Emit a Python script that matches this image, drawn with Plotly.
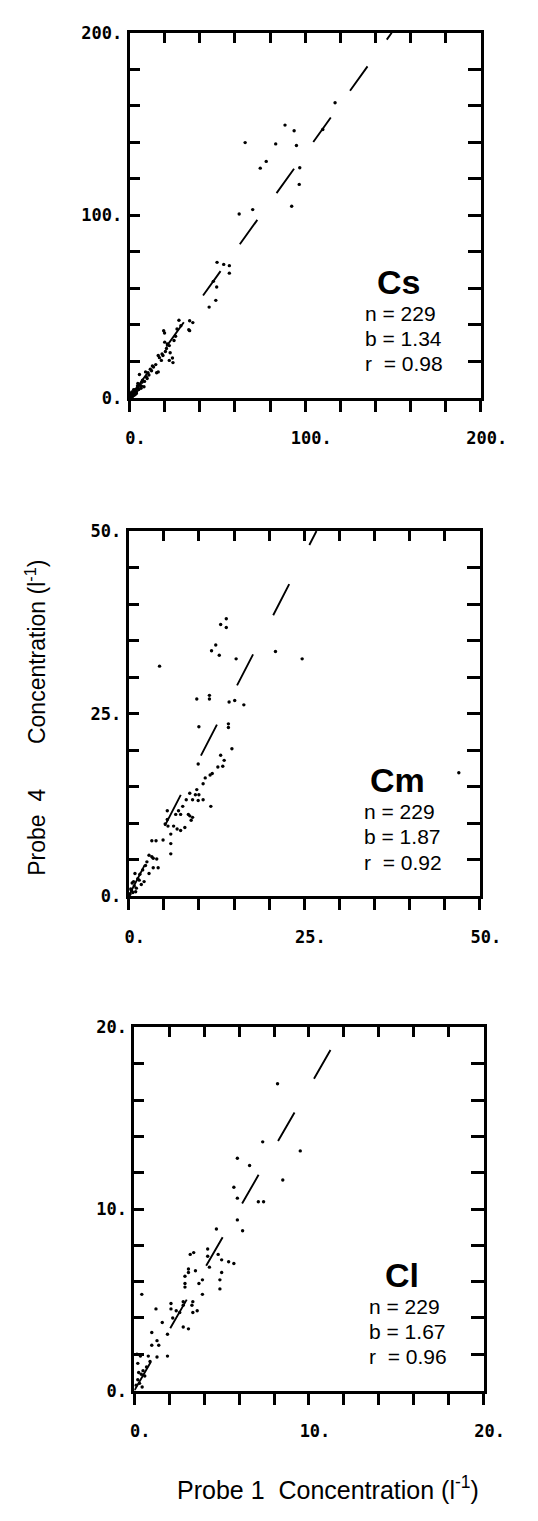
import plotly.graph_objects as go

# ---- data -------------------------------------------------------------
elements = ["Cs", "Cm", "Cl"]
n_values = [229, 229, 229]
slopes = [1.34, 1.87, 1.67]
r_values = [0.98, 0.92, 0.96]
axis_max = [200, 50, 20]
tick_labels = [["0.", "100.", "200."], ["0.", "25.", "50."], ["0.", "10.", "20."]]

cs_x = [117, 110, 88.5, 93.7, 65.8, 83.2, 95, 77.8, 74.4, 96.9, 96.6, 92.3, 62.4, 70.1,
        49.8, 53.6, 56.8, 56.8, 47.7, 49.6, 49.1, 45.3, 34.2, 36, 33.7, 28.1, 19.4, 29.2,
        27, 19.9, 26.2, 25.3, 22.6, 20.4, 19, 16.3, 23.1, 24.4, 24.7, 22.6, 18.1, 14.9,
        13.6, 11.8, 9.1, 16.3, 15.4, 5.6, 10, 7.4, 4.7, 8.2, 6.5, 2.9, 3.8, 34.2,
        0.5, 1.0, 1.2, 0.8, 1.5, 2.0, 1.8, 2.5, 2.2, 3.0, 3.2, 2.8, 3.5, 4.0, 4.2, 1.0,
        0.5, 1.5, 0.3, 2.6, 3.6, 5.0, 5.2, 4.5, 6.0, 7.0, 6.8, 8.5, 9.5, 11.0, 12.5, 10.5,
        13.0, 17.0, 18.5, 21.0, 21.5, 20.0, 0.2, 0.7, 1.3, 2.3, 1.7, 0.9, 2.1, 3.3]
cs_y = [161.6, 147, 149.4, 146.3, 139.8, 139.1, 138.2, 129.5, 125.8, 126, 116.9, 104.9, 100.7, 103.1,
        74.2, 73.1, 72.4, 68.3, 63.8, 60.7, 53.4, 49.7, 42.2, 41.2, 37.3, 42.5, 36.8, 39.5,
        37.7, 35.5, 33.7, 31.4, 28.6, 25.4, 23.2, 23.2, 24.7, 21.8, 19.3, 20.5, 20.5, 18.2,
        16.9, 15.7, 14.2, 14.2, 13.7, 12.8, 10.6, 9.7, 7.9, 6.1, 5.2, 4.3, 2.5, 36.8,
        0.5, 0.8, 1.5, 1.2, 1.0, 1.8, 2.5, 2.2, 3.0, 2.8, 3.6, 4.0, 4.5, 3.5, 5.2, 2.0,
        1.5, 0.5, 0.2, 1.4, 2.4, 6.0, 4.6, 6.5, 7.2, 8.5, 6.4, 9.0, 11.5, 12.5, 14.8, 13.8,
        17.5, 22.0, 24.0, 27.0, 29.5, 30.5, 1.0, 2.6, 3.2, 4.4, 0.9, 0.3, 2.9, 1.9]

cm_x = [13.9, 13.1, 13.9, 12.4, 11.8, 12.9, 15.3, 24.7, 20.9, 4.4, 9.7, 11.5, 11.5, 14.3,
        15.1, 16.4, 10.0, 14.2, 14.2, 14.7, 9.9, 13.1, 13.6, 13.4, 12.7, 11.9, 11.6, 10.9,
        10.6, 9.7, 9.5, 10.0, 8.7, 8.2, 9.1, 9.9, 10.6, 11.7, 7.7, 7.1, 8.7, 8.5, 5.5, 6.7,
        7.4, 9.1, 8.9, 5.5, 5.2, 5.6, 6.4, 6.9, 7.4, 8.0, 6.0, 4.9, 3.9, 3.3, 6.0, 6.0,
        2.9, 3.5, 2.6, 4.0, 3.3, 4.2, 3.5, 2.9, 0.9, 1.5, 2.2, 1.8, 1.1, 47.0,
        0.2, 0.4, 0.6, 0.8, 0.3, 0.5, 1.0, 1.3, 0.7, 0.1, 1.6, 2.0, 2.4]
cm_y = [38.0, 37.2, 36.8, 34.4, 33.6, 33.0, 32.5, 32.5, 33.5, 31.5, 27.0, 27.5, 27.0, 26.6,
        26.8, 26.2, 23.2, 23.6, 23.1, 20.2, 18.1, 19.3, 18.6, 17.8, 17.7, 16.8, 16.6, 16.2,
        15.4, 14.6, 13.9, 13.9, 14.1, 13.2, 13.2, 13.1, 13.2, 12.3, 12.3, 11.7, 11.0, 11.2,
        11.7, 11.2, 11.2, 10.8, 10.4, 10.5, 9.9, 9.6, 9.6, 9.2, 9.0, 9.4, 8.5, 7.7, 7.6, 7.6,
        7.2, 5.8, 5.6, 5.2, 4.7, 5.1, 5.4, 3.9, 3.9, 3.1, 3.1, 2.2, 2.0, 1.6, 1.1, 16.9,
        0.3, 0.8, 0.5, 1.4, 1.0, 1.8, 0.6, 2.4, 2.0, 0.2, 3.0, 3.6, 4.2]

cl_x = [8.2, 7.35, 9.5, 5.9, 6.6, 8.5, 5.7, 5.9, 7.1, 7.4, 5.9, 6.2, 4.7, 4.2, 3.4, 3.2,
        4.2, 4.8, 4.3, 5.0, 5.4, 5.7, 3.1, 3.1, 3.5, 2.9, 5.0, 4.9, 3.7, 3.9, 2.9, 2.9,
        4.9, 3.9, 0.43, 3.35, 3.3, 1.24, 2.1, 2.1, 2.8, 2.8, 2.4, 2.6, 2.2, 3.35, 3.6, 1.6,
        1.9, 2.8, 3.1, 1.0, 1.3, 1.4, 1.0, 0.8, 1.3, 1.9,
        0.1, 0.2, 0.3, 0.4, 0.5, 0.6, 0.2, 0.35, 0.7, 0.15, 0.45, 0.9, 0.25]
cl_y = [16.9, 13.7, 13.2, 12.8, 12.4, 11.6, 11.2, 10.6, 10.4, 10.4, 9.4, 8.8, 8.9, 7.8,
        7.6, 7.5, 7.4, 7.5, 6.8, 7.2, 7.1, 7.0, 6.7, 6.5, 6.6, 6.3, 6.5, 6.1, 5.9, 6.1,
        5.9, 5.7, 5.6, 5.3, 5.3, 4.9, 4.7, 4.5, 4.8, 4.5, 4.9, 4.7, 4.4, 4.3, 4.0, 4.3,
        4.4, 3.75, 3.1, 3.5, 3.4, 3.2, 2.75, 2.5, 2.5, 1.9, 1.85, 1.9,
        0.3, 0.6, 0.4, 0.9, 1.1, 0.8, 1.5, 1.9, 1.3, 2.0, 0.2, 1.6, 1.0]

xs = [cs_x, cm_x, cl_x]
ys = [cs_y, cm_y, cl_y]

# ---- geometry (pixels in a 538 x 1521 page) -------------------------
W, H = 538, 1521
boxes = [(133, 505, 23, 393), (132, 504, 528, 898), (138, 508, 1031, 1399)]
dash_styles = ["30px,33px", "35px,44px", "33px,39px"]

tick_font = dict(family="DejaVu Sans Mono", size=17, color="black", weight="bold")
text_font = "Liberation Sans, Arial, Helvetica, sans-serif"

fig = go.Figure()
layout = dict(width=W, height=H, margin=dict(l=0, r=0, t=0, b=0),
              paper_bgcolor="white", plot_bgcolor="white", showlegend=False,
              annotations=[])

for i in range(3):
    s = "" if i == 0 else str(i + 1)
    o = str(i + 4)
    amax = axis_max[i]
    left, right, top, bottom = boxes[i]
    xdom = [left / W, right / W]
    ydom = [1 - bottom / H, 1 - top / H]
    all_ticks = [amax * k / 10 for k in range(11)]
    label_ticks = [0, amax / 2, amax]

    fig.add_trace(go.Scatter(x=xs[i], y=ys[i], mode="markers",
                             marker=dict(size=3.4, color="black", line=dict(width=0)),
                             xaxis="x" + s, yaxis="y" + s, hoverinfo="skip"))
    b = slopes[i]
    fig.add_trace(go.Scatter(x=[0, amax / b], y=[0, amax], mode="lines",
                             line=dict(color="black", width=1.9, dash=dash_styles[i]),
                             xaxis="x" + s, yaxis="y" + s, hoverinfo="skip"))
    fig.add_trace(go.Scatter(x=[None], y=[None], mode="markers",
                             xaxis="x" + o, yaxis="y" + o, hoverinfo="skip"))

    common = dict(range=[0, amax], showgrid=False, zeroline=False, showline=True,
                  linecolor="black", linewidth=3, tickcolor="black", tickwidth=2.5,
                  tickmode="array", fixedrange=True)
    # bottom axis: labelled ticks at 0 / mid / max, short outward ticks every tenth
    layout["xaxis" + s] = dict(common, domain=xdom, anchor="y" + s, side="bottom",
                               ticks="outside", ticklen=11, tickvals=label_ticks,
                               ticktext=tick_labels[i], tickfont=tick_font,
                               ticklabelshift=6, ticklabelstandoff=12,
                               minor=dict(tickmode="array", tickvals=all_ticks,
                                          ticks="outside", ticklen=11, tickwidth=2.5,
                                          tickcolor="black", showgrid=False))
    # left axis: inward ticks
    layout["yaxis" + s] = dict(common, domain=ydom, anchor="x" + s, side="left",
                               ticks="inside", ticklen=10, tickvals=label_ticks,
                               ticktext=tick_labels[i], tickfont=tick_font,
                               ticklabelstandoff=1,
                               minor=dict(tickmode="array", tickvals=all_ticks,
                                          ticks="inside", ticklen=10, tickwidth=2.5,
                                          tickcolor="black", showgrid=False))
    # top and right frame edges with inward ticks
    layout["xaxis" + o] = dict(common, overlaying="x" + s, anchor="y" + o, side="top",
                               ticks="inside", ticklen=10, tickvals=all_ticks,
                               showticklabels=False)
    layout["yaxis" + o] = dict(common, overlaying="y" + s, anchor="x" + o, side="right",
                               ticks="inside", ticklen=13, tickvals=all_ticks,
                               showticklabels=False)

    # element name and regression statistics
    xr = "x" + s + " domain"
    yr = "y" + s + " domain"
    layout["annotations"].append(dict(
        text="<b>%s</b>" % elements[i], xref=xr, yref=yr, x=0.765, y=0.318,
        xanchor="center", yanchor="middle", showarrow=False,
        font=dict(family=text_font, size=34, color="black")))
    stats = ["n = %d" % n_values[i], "b = %.2f" % slopes[i], "r\u00a0 = %.2f" % r_values[i]]
    for txt, yy in zip(stats, [0.232, 0.163, 0.093]):
        layout["annotations"].append(dict(
            text=txt, xref=xr, yref=yr, x=0.665, y=yy, xanchor="left", yanchor="middle",
            showarrow=False, font=dict(family=text_font, size=21, color="black")))

# axis titles shared by the three panels
layout["annotations"].append(dict(
    text="Probe\u00a0 4\u00a0\u00a0\u00a0\u00a0\u00a0\u00a0 Concentration (l<sup>-1</sup>)",
    xref="paper", yref="paper", x=33 / W, y=1 - 717 / H, textangle=-90,
    xanchor="center", yanchor="middle", showarrow=False,
    font=dict(family=text_font, size=23, color="black")))
layout["annotations"].append(dict(
    text="Probe 1\u00a0 Concentration (l<sup>-1</sup>)",
    xref="paper", yref="paper", x=343 / W, y=1 - 1498 / H,
    xanchor="center", yanchor="middle", showarrow=False,
    font=dict(family=text_font, size=25, color="black")))

fig.update_layout(**layout)
fig.write_html("out.html")
